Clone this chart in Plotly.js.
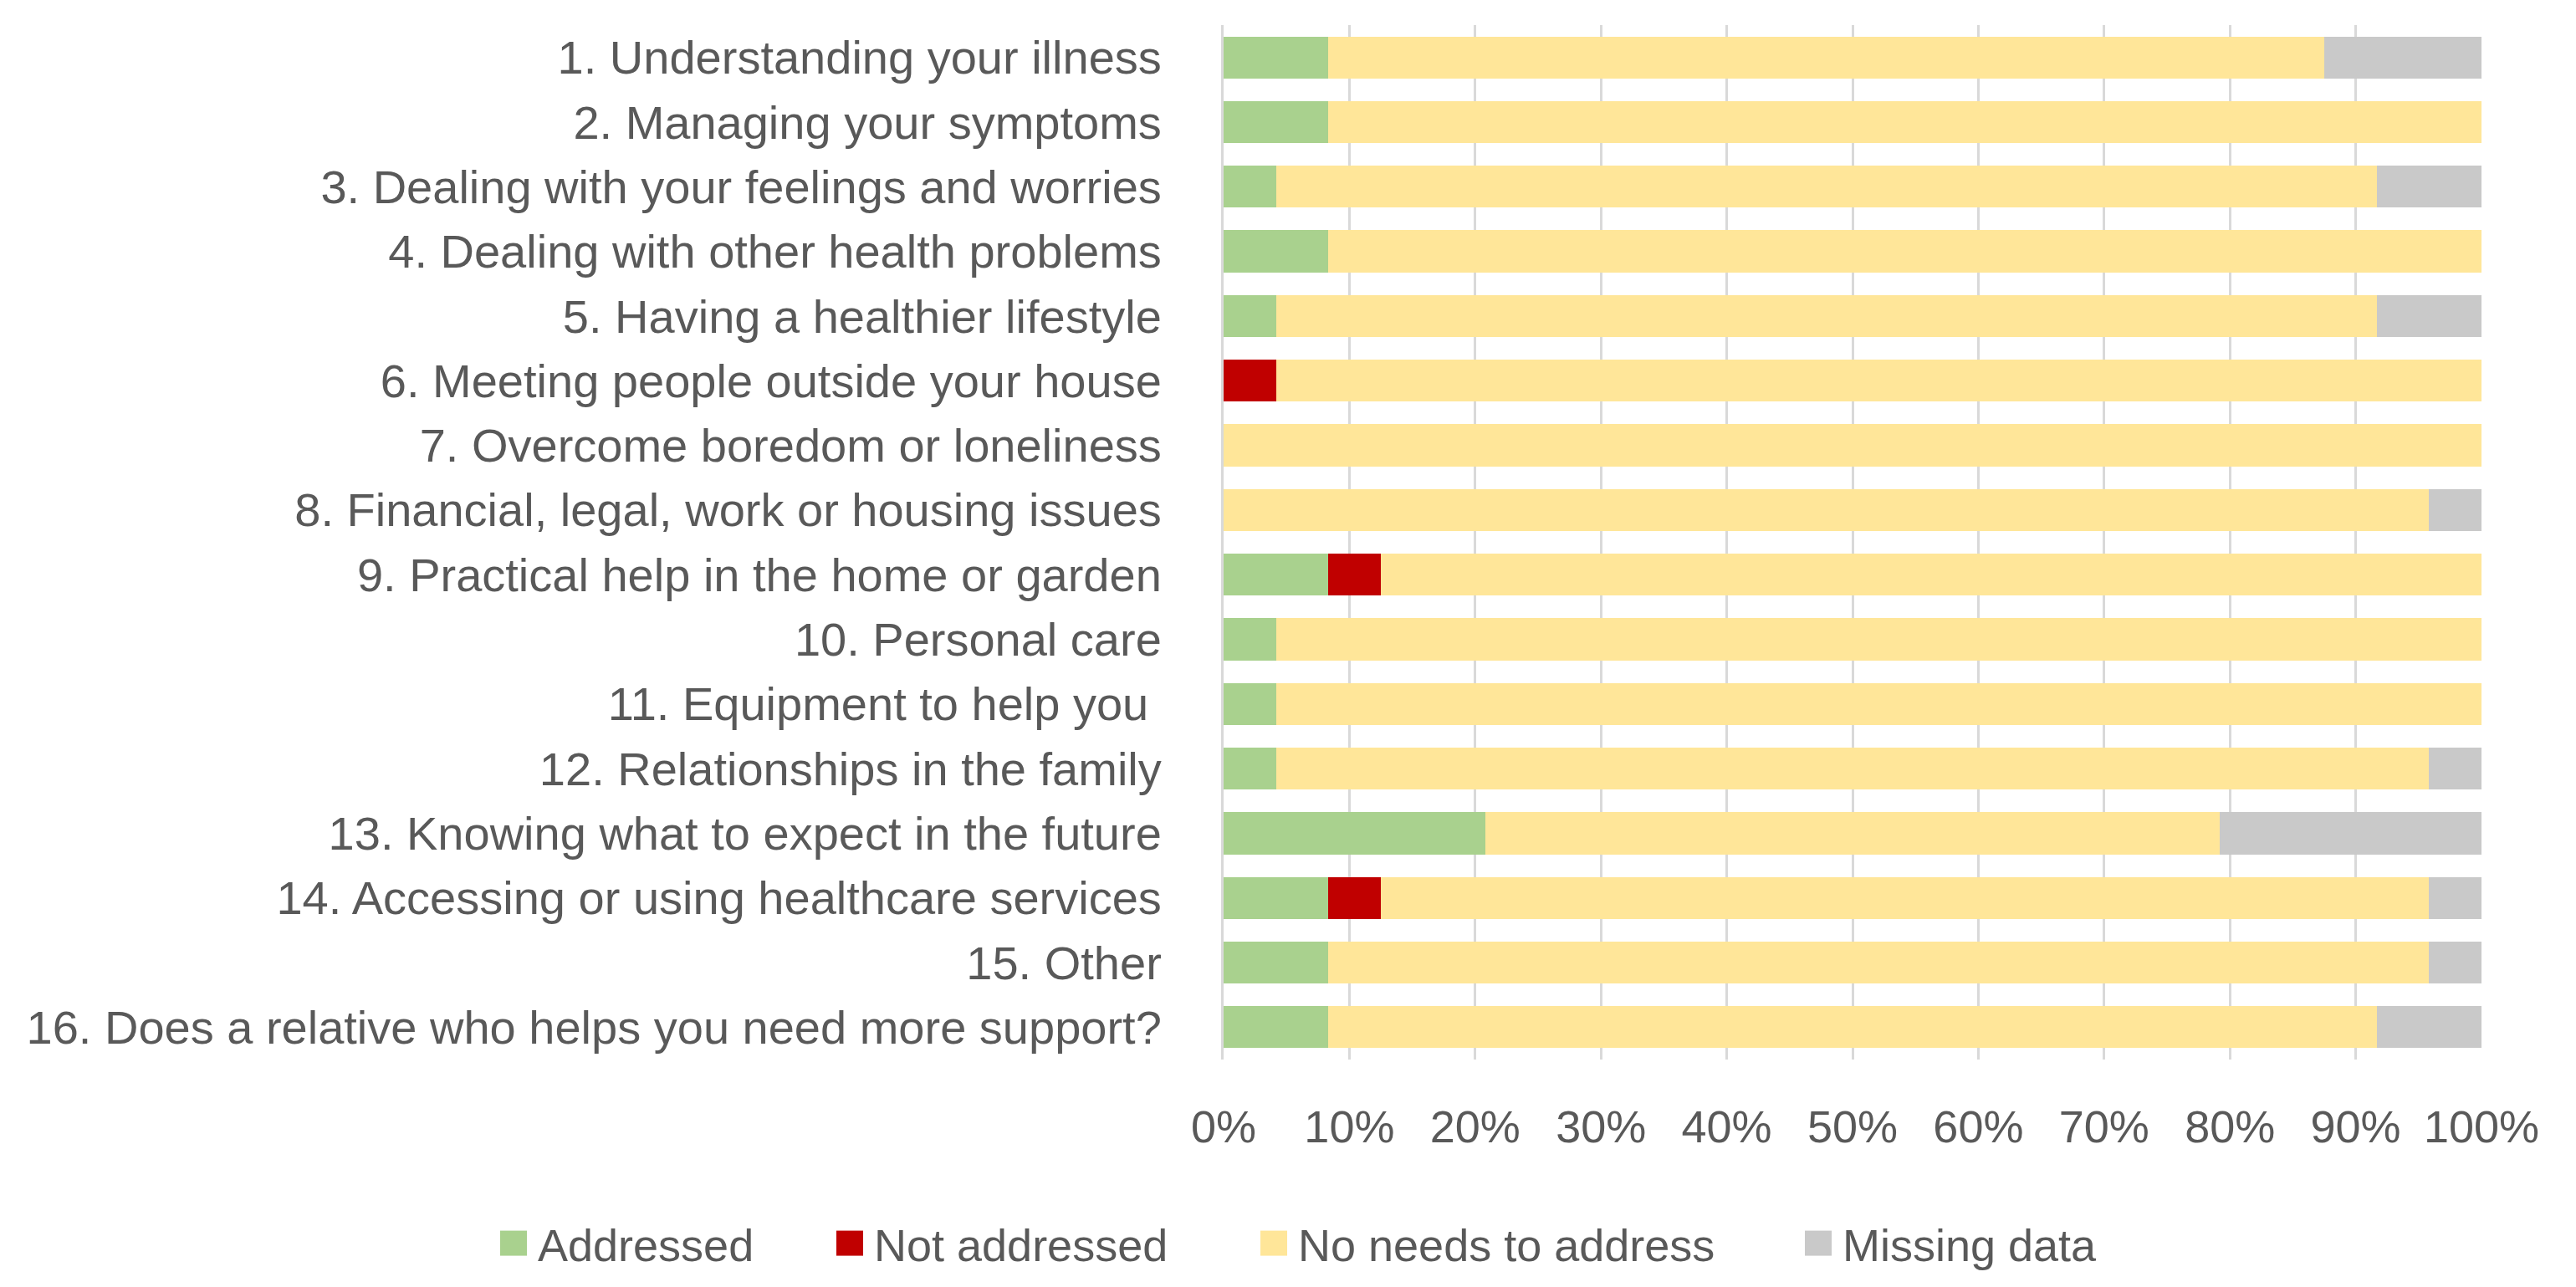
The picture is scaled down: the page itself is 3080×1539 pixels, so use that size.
<!DOCTYPE html>
<html>
<head>
<meta charset="utf-8">
<script src="https://cdn.plot.ly/plotly-3.0.1.min.js"></script>
<style>html,body{margin:0;padding:0;background:#fff;}#chart{width:3080px;height:1539px;}</style>
</head>
<body>
<div id="chart"></div>
<script>
const categories = [
  "1. Understanding your illness",
  "2. Managing your symptoms",
  "3. Dealing with your feelings and worries",
  "4. Dealing with other health problems",
  "5. Having a healthier lifestyle",
  "6. Meeting people outside your house",
  "7. Overcome boredom or loneliness",
  "8. Financial, legal, work or housing issues",
  "9. Practical help in the home or garden",
  "10. Personal care",
  "11. Equipment to help you ",
  "12. Relationships in the family",
  "13. Knowing what to expect in the future",
  "14. Accessing or using healthcare services",
  "15. Other",
  "16. Does a relative who helps you need more support?"
];
const addressed    = [8.33, 8.33, 4.17, 8.33, 4.17, 0, 0, 0, 8.33, 4.17, 4.17, 4.17, 20.83, 8.33, 8.33, 8.33];
const notAddressed = [0, 0, 0, 0, 0, 4.17, 0, 0, 4.17, 0, 0, 0, 0, 4.17, 0, 0];
const noNeeds      = [79.17, 91.67, 87.5, 91.67, 87.5, 95.83, 100, 95.83, 87.5, 95.83, 95.83, 91.67, 58.33, 83.33, 87.5, 83.33];
const missing      = [12.5, 0, 8.33, 0, 8.33, 0, 0, 4.17, 0, 0, 0, 4.17, 20.83, 4.17, 4.17, 8.33];
const seriesNames  = ["Addressed", "Not addressed", "No needs to address", "Missing data"];
const tickValues   = [0, 10, 20, 30, 40, 50, 60, 70, 80, 90, 100];

const colors = ["#A9D18E", "#C00000", "#FFE699", "#C9C9C9"];
const values = [addressed, notAddressed, noNeeds, missing];
const legendIconCenter = [613, 1015, 1522, 2173];
const W = 3080, H = 1539;
const fontFam = "'Liberation Sans', Arial, sans-serif";
const textColor = "#595959";

const traces = values.map((v, i) => ({
  type: "bar",
  orientation: "h",
  name: seriesNames[i],
  y: categories,
  x: v,
  marker: {color: colors[i], line: {width: 0}},
  legend: i === 0 ? "legend" : "legend" + (i + 1),
  hoverinfo: "x+y+name"
}));

const layout = {
  width: W, height: H,
  paper_bgcolor: "#fff", plot_bgcolor: "#fff",
  barmode: "stack",
  bargap: 0.35,
  margin: {l: 1463, r: 113, t: 30, b: 272, pad: 0},
  font: {family: fontFam, size: 54, color: textColor},
  xaxis: {
    range: [0, 100],
    tickvals: tickValues,
    ticktext: tickValues.map(t => t + "%"),
    showgrid: true, gridcolor: "#D9D9D9", gridwidth: 3,
    zeroline: false, showline: false,
    ticks: "", ticklabelstandoff: 44,
    tickfont: {family: fontFam, size: 54, color: textColor},
    fixedrange: true
  },
  yaxis: {
    type: "category",
    autorange: "reversed",
    showgrid: false, zeroline: false,
    showline: true, linecolor: "#D9D9D9", linewidth: 3,
    ticks: "", ticklabelstandoff: 60,
    tickfont: {family: fontFam, size: 56, color: textColor},
    fixedrange: true
  },
  showlegend: true
};
for (let i = 0; i < 4; i++) {
  const key = i === 0 ? "legend" : "legend" + (i + 1);
  layout[key] = {
    xref: "container", yref: "container",
    x: (legendIconCenter[i] - 20) / W, xanchor: "left",
    y: 1 - 1487 / H, yanchor: "middle",
    orientation: "h",
    bgcolor: "rgba(0,0,0,0)",
    font: {family: fontFam, size: 54, color: textColor},
    itemwidth: 40
  };
}

Plotly.newPlot("chart", traces, layout, {displayModeBar: false, staticPlot: true}).then(gd => {
  // enlarge legend swatches to match the reference's square keys, leaving a gap before the text
  gd.querySelectorAll(".legendpoints path").forEach(p => p.setAttribute("d", "M12,15H-20V-15H12Z"));
});
</script>
</body>
</html>
